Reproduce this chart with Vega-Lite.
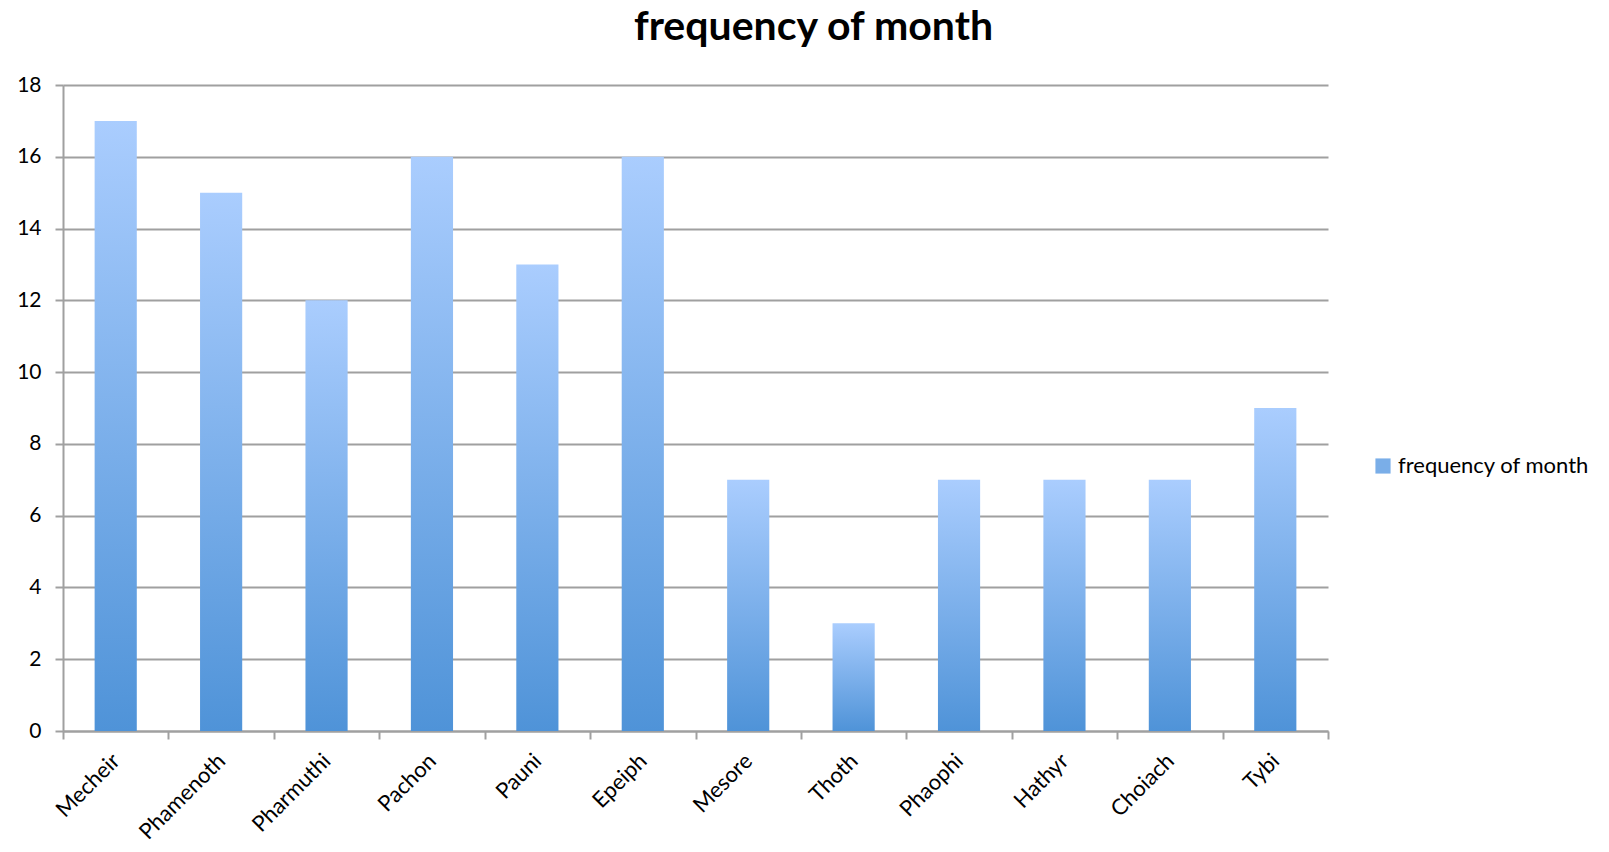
{
  "$schema": "https://vega.github.io/schema/vega-lite/v6.json",
  "width": 1265,
  "height": 646,
  "autosize": {"type": "none"},
  "padding": {"left": 63, "top": 85, "right": 281, "bottom": 121},
  "background": "white",
  "config": {"view": {"stroke": null}},
  "title": {
    "text": "frequency of month",
    "fontSize": 41,
    "font": "Lato",
    "fontWeight": "bold",
    "color": "#000000",
    "anchor": "middle",
    "frame": "group",
    "dx": 118,
    "offset": 25
  },
  "data": {
    "values": [
      {"month": "Mecheir", "frequency": 17, "series": "frequency of month"},
      {"month": "Phamenoth", "frequency": 15, "series": "frequency of month"},
      {"month": "Pharmuthi", "frequency": 12, "series": "frequency of month"},
      {"month": "Pachon", "frequency": 16, "series": "frequency of month"},
      {"month": "Pauni", "frequency": 13, "series": "frequency of month"},
      {"month": "Epeiph", "frequency": 16, "series": "frequency of month"},
      {"month": "Mesore", "frequency": 7, "series": "frequency of month"},
      {"month": "Thoth", "frequency": 3, "series": "frequency of month"},
      {"month": "Phaophi", "frequency": 7, "series": "frequency of month"},
      {"month": "Hathyr", "frequency": 7, "series": "frequency of month"},
      {"month": "Choiach", "frequency": 7, "series": "frequency of month"},
      {"month": "Tybi", "frequency": 9, "series": "frequency of month"}
    ]
  },
  "encoding": {
    "x": {
      "field": "month",
      "type": "nominal",
      "sort": null,
      "scale": {"paddingInner": 0, "paddingOuter": 0},
      "axis": {
        "title": null,
        "labelAngle": -45,
        "labelAlign": "right",
        "labelBaseline": "middle",
        "labelFont": "Lato",
        "labelFontSize": 22,
        "labelColor": "#000000",
        "labelPadding": 18,
        "tickBand": "extent",
        "tickSize": 8,
        "tickWidth": 2,
        "tickColor": "#a0a0a0",
        "domainColor": "#a0a0a0",
        "domainWidth": 2,
        "grid": false
      }
    },
    "y": {
      "field": "frequency",
      "type": "quantitative",
      "scale": {"domain": [0, 18], "nice": false},
      "axis": {
        "title": null,
        "values": [0, 2, 4, 6, 8, 10, 12, 14, 16, 18],
        "labelFont": "Lato",
        "labelFontSize": 21,
        "labelColor": "#000000",
        "labelPadding": 14,
        "tickSize": 8,
        "tickWidth": 2,
        "tickColor": "#a0a0a0",
        "domainColor": "#a0a0a0",
        "domainWidth": 2,
        "gridColor": "#a0a0a0",
        "gridWidth": 2
      }
    }
  },
  "layer": [
    {
      "mark": {
        "type": "bar",
        "width": {"band": 0.4},
        "color": {
          "gradient": "linear",
          "x1": 0, "y1": 1, "x2": 0, "y2": 0,
          "stops": [
            {"offset": 0, "color": "#4f93d8"},
            {"offset": 1, "color": "#aacdfe"}
          ]
        }
      }
    },
    {
      "mark": {"type": "bar", "width": {"band": 0.4}, "opacity": 0},
      "encoding": {
        "fill": {
          "field": "series",
          "type": "nominal",
          "scale": {"range": ["#7aaee8"]},
          "legend": {
            "title": null,
            "orient": "none",
            "legendX": 1309,
            "legendY": 370,
            "symbolType": "square",
            "symbolSize": 230,
            "symbolOpacity": 1,
            "symbolStrokeWidth": 0,
            "labelFont": "Lato",
            "labelFontSize": 22,
            "labelColor": "#000000",
            "labelLimit": 0
          }
        }
      }
    }
  ]
}
